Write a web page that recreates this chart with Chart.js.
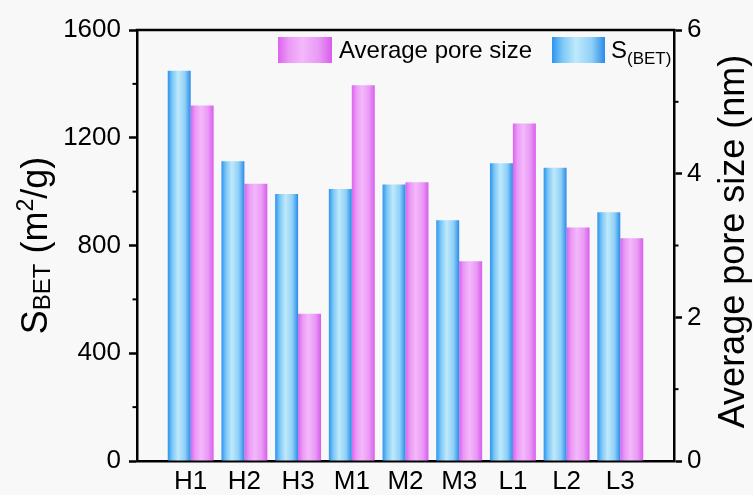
<!DOCTYPE html>
<html>
<head>
<meta charset="utf-8">
<script src="https://cdn.jsdelivr.net/npm/chart.js@4/dist/chart.umd.min.js"></script>
<style>
  html, body { margin:0; padding:0; background:#f8f8f8; }
  #wrap { width:753px; height:495px; position:relative; }
</style>
</head>
<body>
<div id="wrap"><canvas id="c" width="753" height="495"></canvas></div>
<script>
// ---- data ----
const categories = ['H1','H2','H3','M1','M2','M3','L1','L2','L3'];
const sbetValues = [1449, 1113, 991, 1010, 1026, 894, 1105, 1089, 923];
const poreValues = [4.95, 3.86, 2.05, 5.23, 3.88, 2.78, 4.70, 3.25, 3.10];
const leftTicks = [0, 400, 800, 1200, 1600];
const leftMinorTicks = [200, 600, 1000, 1400];
const rightTicks = [0, 2, 4, 6];
const rightMinorTicks = [1, 3, 5];
const legendLabels = ['Average pore size', 'S', '(BET)'];
const leftTitle = ['S', 'BET', ' (m', '2', '/g)'];
const rightTitle = 'Average pore size (nm)';

// ---- styles ----
const FONT = "'Liberation Sans', Arial, sans-serif";
const CAT_PCT = 0.855;
const blueStops = ['#2d94ee', '#7cc8f6', '#bfe9fb', '#8fd0f7', '#2a8ce8'];
const pinkStops = ['#dc62ef', '#eb9af6', '#f3b8fa', '#e99af5', '#d95ded'];

function makeGrad(c, x0, x1, stops) {
  const g = c.createLinearGradient(x0, 0, x1, 0);
  g.addColorStop(0, stops[0]);
  g.addColorStop(0.2, stops[1]);
  g.addColorStop(0.45, stops[2]);
  g.addColorStop(0.75, stops[3]);
  g.addColorStop(1, stops[4]);
  return g;
}

function barBg(side, stops) {
  return function(ctx) {
    const chart = ctx.chart;
    const xs = chart.scales && chart.scales.x;
    if (!xs || ctx.type !== 'data' || !isFinite(xs.getPixelForValue(1))) return stops[2];
    const i = ctx.dataIndex;
    const cx = xs.getPixelForValue(i + 1);
    const spacing = xs.getPixelForValue(2) - xs.getPixelForValue(1);
    const group = spacing * CAT_PCT;
    const left = side === 0 ? cx - group / 2 : cx;
    return makeGrad(chart.ctx, left, left + group / 2, stops);
  };
}

const decoPlugin = {
  id: 'deco',
  beforeDraw(chart) {
    const c = chart.ctx;
    c.save();
    c.fillStyle = '#f8f8f8';
    c.fillRect(0, 0, chart.width, chart.height);
    c.restore();
  },
  afterDraw(chart) {
    const c = chart.ctx;
    const a = chart.chartArea;
    const yl = chart.scales.y, yr = chart.scales.y2;
    c.save();
    c.strokeStyle = '#000';
    // top frame line
    c.lineWidth = 2.5;
    c.beginPath();
    c.moveTo(a.left - 1.25, a.top);
    c.lineTo(a.right + 1.25, a.top);
    c.stroke();
    // minor ticks
    c.lineWidth = 2;
    leftMinorTicks.forEach(v => {
      const y = yl.getPixelForValue(v);
      c.beginPath(); c.moveTo(a.left, y); c.lineTo(a.left - 4.5, y); c.stroke();
    });
    rightMinorTicks.forEach(v => {
      const y = yr.getPixelForValue(v);
      c.beginPath(); c.moveTo(a.right, y); c.lineTo(a.right + 4.5, y); c.stroke();
    });

    c.fillStyle = '#000';
    // left title (rotated)
    const midY = (a.top + a.bottom) / 2;
    const parts = [
      {t: leftTitle[0], size: 36, dy: 0},
      {t: leftTitle[1], size: 24, dy: 3},
      {t: leftTitle[2], size: 36, dy: 0},
      {t: leftTitle[3], size: 23, dy: -14},
      {t: leftTitle[4], size: 36, dy: 0}
    ];
    let total = 0;
    parts.forEach(p => { c.font = p.size + 'px ' + FONT; p.w = c.measureText(p.t).width; total += p.w; });
    c.save();
    c.translate(47, midY);
    c.rotate(-Math.PI / 2);
    c.textBaseline = 'alphabetic';
    c.textAlign = 'left';
    let px = -total / 2;
    parts.forEach(p => { c.font = p.size + 'px ' + FONT; c.fillText(p.t, px, p.dy); px += p.w; });
    c.restore();

    // right title
    c.save();
    c.translate(744, midY - 4);
    c.rotate(-Math.PI / 2);
    c.font = '36px ' + FONT;
    c.textAlign = 'center';
    c.textBaseline = 'alphabetic';
    c.fillText(rightTitle, 0, 0);
    c.restore();

    // legend
    c.fillStyle = makeGrad(c, 278, 332, pinkStops);
    c.fillRect(278, 37, 54, 26);
    c.fillStyle = makeGrad(c, 552, 605, blueStops);
    c.fillRect(552, 37, 53, 26);
    c.fillStyle = '#000';
    c.textAlign = 'left';
    c.textBaseline = 'alphabetic';
    c.font = '24px ' + FONT;
    c.fillText(legendLabels[0], 339, 58);
    c.fillText(legendLabels[1], 611, 58);
    const sw = c.measureText(legendLabels[1]).width;
    c.font = '17px ' + FONT;
    c.fillText(legendLabels[2], 611 + sw, 64);
    c.restore();
  }
};

const tickFont = { family: FONT, size: 26 };

new Chart(document.getElementById('c'), {
  type: 'bar',
  data: {
    datasets: [
      {
        label: 'S(BET)',
        data: sbetValues.map((v, i) => ({ x: i + 1, y: v })),
        yAxisID: 'y',
        backgroundColor: barBg(0, blueStops),
        borderWidth: 0,
        categoryPercentage: CAT_PCT,
        barPercentage: 1
      },
      {
        label: 'Average pore size',
        data: poreValues.map((v, i) => ({ x: i + 1, y: v })),
        yAxisID: 'y2',
        backgroundColor: barBg(1, pinkStops),
        borderWidth: 0,
        categoryPercentage: CAT_PCT,
        barPercentage: 1
      }
    ]
  },
  options: {
    responsive: false,
    animation: false,
    devicePixelRatio: 1,
    layout: { padding: { top: 30, left: 0, right: 0, bottom: 0 } },
    plugins: { legend: { display: false }, tooltip: { enabled: false } },
    scales: {
      x: {
        type: 'linear',
        offset: false,
        min: 0, max: 10,
        afterBuildTicks: s => { s.ticks = categories.map((c, i) => ({ value: i + 1 })); },
        ticks: {
          callback: v => categories[v - 1] || '',
          font: tickFont, color: '#000', padding: 5,
          maxRotation: 0, autoSkip: false
        },
        grid: { display: false, drawTicks: false, offset: false },
        border: { display: true, width: 2.5, color: '#000' },
        afterFit: s => { s.height = 34; }
      },
      y: {
        position: 'left',
        min: leftTicks[0], max: leftTicks[leftTicks.length - 1],
        afterBuildTicks: s => { s.ticks = leftTicks.map(v => ({ value: v })); },
        ticks: { font: tickFont, color: '#000', padding: 8, callback: v => String(v) },
        grid: { drawOnChartArea: false, tickLength: 8, tickWidth: 2.5, tickColor: '#000' },
        border: { display: true, width: 2.5, color: '#000' },
        afterFit: s => { s.width = 137; }
      },
      y2: {
        position: 'right',
        min: rightTicks[0], max: rightTicks[rightTicks.length - 1],
        afterBuildTicks: s => { s.ticks = rightTicks.map(v => ({ value: v })); },
        ticks: { font: tickFont, color: '#000', padding: 5, callback: v => String(v) },
        grid: { drawOnChartArea: false, tickLength: 8, tickWidth: 2.5, tickColor: '#000' },
        border: { display: true, width: 2.5, color: '#000' },
        afterFit: s => { s.width = 79; }
      }
    }
  },
  plugins: [decoPlugin]
});
</script>
</body>
</html>
